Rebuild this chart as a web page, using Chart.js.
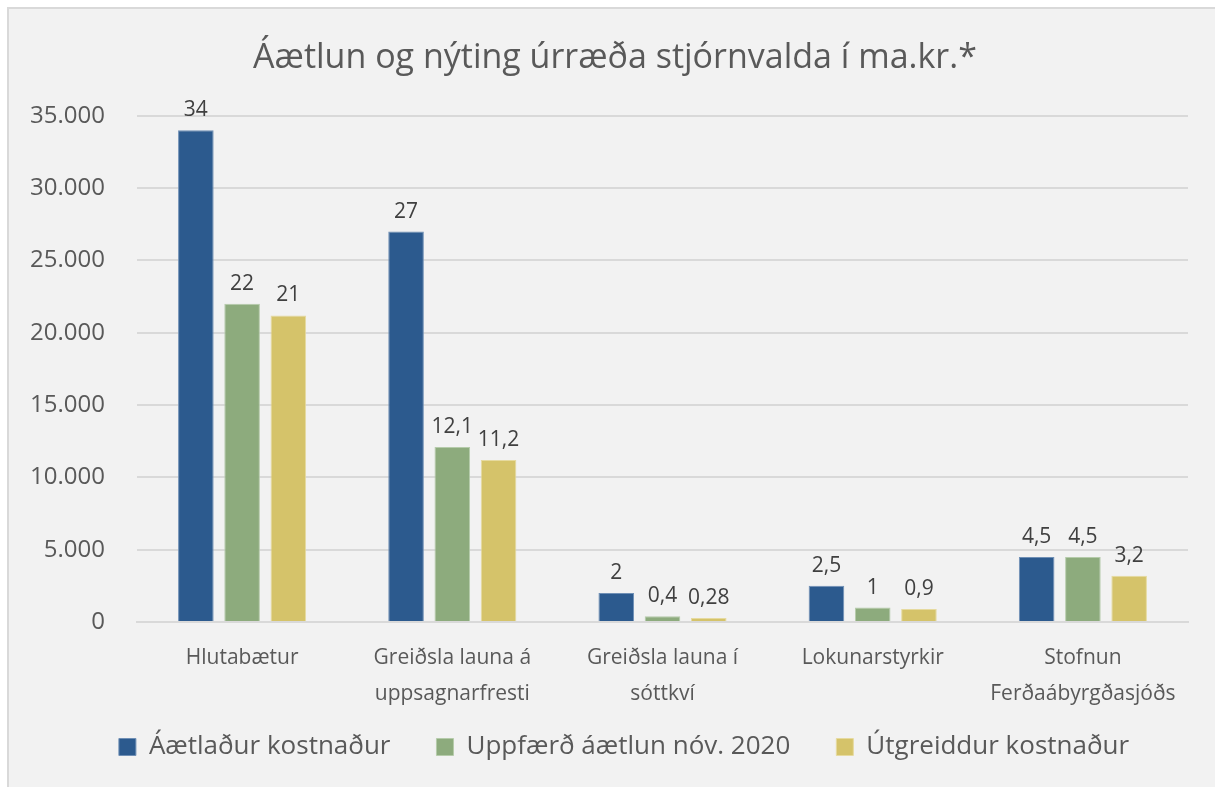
<!DOCTYPE html>
<html>
<head>
<meta charset="utf-8">
<script src="https://cdn.jsdelivr.net/npm/chart.js@4.4.1/dist/chart.umd.min.js"></script>
<style>
  html, body { margin: 0; padding: 0; background: #ffffff; }
  #wrap { position: relative; width: 1215px; height: 787px; overflow: hidden; }
  #panel {
    position: absolute; left: 7px; top: 7px; width: 1300px; height: 900px;
    background: #f2f2f2; border-left: 2px solid #d9d9d9; border-top: 2px solid #d9d9d9;
  }
  #chart { position: absolute; left: 0; top: 0; }
</style>
</head>
<body>
<div id="wrap">
  <div id="panel"></div>
  <canvas id="chart" width="1215" height="787"></canvas>
</div>
<script>
// categories (x axis), multi-line labels
const categories = [
    'Hlutabætur',
    ['Greiðsla launa á', 'uppsagnarfresti'],
    ['Greiðsla launa í', 'sóttkví'],
    'Lokunarstyrkir',
    ['Stofnun', 'Ferðaábyrgðasjóðs']
];

// values in millions kr.
const aetladurKostnadur = [34000, 27000, 2000, 2500, 4500];
const uppfaerdAaetlun   = [22000, 12100, 400, 1000, 4500];
const utgreiddurKostn   = [21200, 11200, 280, 900, 3200];

// labels shown above bars (ma.kr.)
const aetladurLabels   = ['34', '27', '2', '2,5', '4,5'];
const uppfaerdLabels   = ['22', '12,1', '0,4', '1', '4,5'];
const utgreiddurLabels = ['21', '11,2', '0,28', '0,9', '3,2'];

const seriesNames = ['Áætlaður kostnaður', 'Uppfærð áætlun nóv. 2020', 'Útgreiddur kostnaður'];

const yMax = 35000;
const yStep = 5000;

const FONT = '"Open Sans", "Noto Sans", sans-serif';

function formatThousands(v) {
    return String(v).replace(/\B(?=(\d{3})+(?!\d))/g, '.');
}

// small plugin: value labels above each bar
const barLabels = {
    id: 'barLabels',
    afterDatasetsDraw(chart) {
        const ctx = chart.ctx;
        ctx.save();
        ctx.font = '21px ' + FONT;
        ctx.fillStyle = '#404040';
        ctx.textAlign = 'center';
        ctx.textBaseline = 'alphabetic';
        chart.data.datasets.forEach((ds, i) => {
            const meta = chart.getDatasetMeta(i);
            meta.data.forEach((bar, j) => {
                ctx.fillText(ds.valueLabels[j], bar.x, bar.y - 14);
            });
        });
        ctx.restore();
    }
};

// nudge title and legend to where they sit in the original
const nudgeBlocks = {
    id: 'nudgeBlocks',
    afterUpdate(chart) {
        const t = chart.titleBlock;
        t.left += 21; t.right += 21;
        const l = chart.legend;
        l.left += 30; l.right += 30;
        l.top -= 27; l.bottom -= 27;
    }
};

const ctx = document.getElementById('chart').getContext('2d');

new Chart(ctx, {
    type: 'bar',
    data: {
        labels: categories,
        datasets: [
            {
                label: seriesNames[0],
                data: aetladurKostnadur,
                valueLabels: aetladurLabels,
                backgroundColor: '#2c5a8e',
                borderColor: '#6f8fb5',
                borderWidth: 1
            },
            {
                label: seriesNames[1],
                data: uppfaerdAaetlun,
                valueLabels: uppfaerdLabels,
                backgroundColor: '#8dab7d',
                borderColor: '#b5cbaa',
                borderWidth: 1
            },
            {
                label: seriesNames[2],
                data: utgreiddurKostn,
                valueLabels: utgreiddurLabels,
                backgroundColor: '#d5c36a',
                borderColor: '#e6da9f',
                borderWidth: 1
            }
        ]
    },
    options: {
        responsive: false,
        animation: false,
        barPercentage: 0.77,
        categoryPercentage: 0.66,
        layout: {
            padding: { left: 0, right: 27, top: 28, bottom: -10 }
        },
        plugins: {
            title: {
                display: true,
                text: 'Áætlun og nýting úrræða stjórnvalda í ma.kr.*',
                color: '#595959',
                font: { family: FONT, size: 34, weight: 'normal' },
                padding: { top: 10, bottom: 37 }
            },
            legend: {
                position: 'bottom',
                labels: {
                    color: '#595959',
                    font: { family: FONT, size: 26 },
                    boxWidth: 17,
                    boxHeight: 17,
                    padding: 46
                }
            },
            tooltip: { enabled: false }
        },
        scales: {
            x: {
                afterFit(scale) { scale.height = 93; },
                grid: { display: false },
                border: { display: true, color: '#d9d9d9', width: 2 },
                ticks: {
                    color: '#595959',
                    font: { family: FONT, size: 21, lineHeight: 1.7 },
                    padding: 10,
                    maxRotation: 0,
                    autoSkip: false
                }
            },
            y: {
                min: 0,
                max: yMax,
                afterFit(scale) { scale.width = 137; },
                grid: { color: '#d9d9d9', lineWidth: 2, drawTicks: false },
                border: { display: false },
                ticks: {
                    stepSize: yStep,
                    color: '#595959',
                    font: { family: FONT, size: 24 },
                    padding: 32,
                    callback: v => formatThousands(v)
                }
            }
        }
    },
    plugins: [barLabels, nudgeBlocks]
});
</script>
</body>
</html>
